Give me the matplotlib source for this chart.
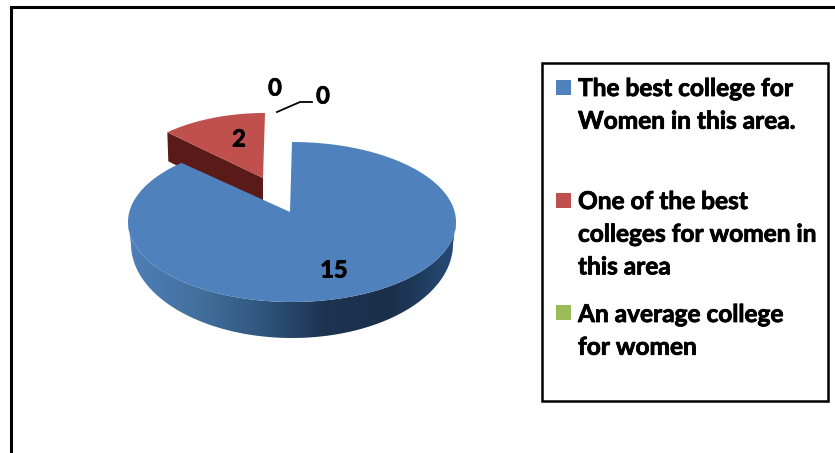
import matplotlib
matplotlib.use("Agg")
import matplotlib.pyplot as plt
import matplotlib.patheffects as pe
import numpy as np
from matplotlib.colors import LinearSegmentedColormap
from matplotlib.patches import Polygon, Rectangle

# === Data ===
slice_values = [15, 2, 0, 0]
slice_labels = ["15", "2", "0", "0"]
legend_labels = [
    "The best college for\nWomen in this area.",
    "One of the best\ncolleges for women in\nthis area",
    "An average college\nfor women",
]

# === Colours ===
BLUE = "#4F81BD"
RED = "#C0504D"
GREEN = "#9BBB59"
DARK_RED = "#5A1A18"
side_ramp = ["#4F7FB9", "#44719F", "#30577F", "#1D3350", "#1B2F4A", "#264B78"]

plt.rcParams["font.family"] = ["Lato", "DejaVu Sans"]
heavy = [pe.withStroke(linewidth=0.6, foreground="black")]


def ellipse_points(cx, cy, a, b, t0, t1):
    # angles are degrees clockwise from 12 o'clock
    t = np.radians(np.linspace(t0, t1, 200))
    return np.column_stack([cx + a * np.sin(t), cy - b * np.cos(t)])


fig = plt.figure(figsize=(8.35, 4.53), dpi=100)
ax = fig.add_axes([0, 0, 1, 1])
ax.set_axis_off()

# outer frame, only top and left are in view
ax.plot([835, 11, 11], [7, 7, 453], color="black", lw=2.2, solid_joinstyle="miter", zorder=1)

# === Pie ===
total = sum(slice_values)
blue_end = 360 * slice_values[0] / total
red_end = blue_end + 360 * slice_values[1] / total

# blue side wall with shading ramp
top_arc = ellipse_points(292, 222, 164, 80, 90, 270)
bottom_arc = ellipse_points(292, 244, 161, 94, 270, 90)
wall = Polygon(np.vstack([top_arc, bottom_arc]), closed=True, transform=ax.transData,
               facecolor="none", edgecolor="none")
ax.add_patch(wall)
cmap = LinearSegmentedColormap.from_list("side", side_ramp)
im = ax.imshow(np.linspace(0, 1, 256).reshape(1, -1), cmap=cmap, aspect="auto",
               extent=(128, 456, 340, 220), zorder=2)
im.set_clip_path(wall)

# red slice, pulled out of the pie
red_top = ellipse_points(265, 187, 145, 74, blue_end, red_end)
red_apex = [263, 178]
left_corner = red_top[0]
ax.add_patch(Polygon([left_corner, red_apex, [red_apex[0], red_apex[1] + 31],
                      [left_corner[0] + 1, left_corner[1] + 29]],
                     closed=True, facecolor=DARK_RED, edgecolor="none", zorder=3))
ax.add_patch(Polygon(np.vstack([red_top, [red_apex]]), closed=True, facecolor=RED,
                     edgecolor="none", zorder=4))

# blue top face
blue_top = ellipse_points(292, 222, 164, 80, 0, blue_end)
ax.add_patch(Polygon(np.vstack([blue_top, [[290, 212]]]), closed=True, facecolor=BLUE,
                     edgecolor="none", zorder=5))

# === Data labels ===
label_pos = [(334, 270), (239, 139), (275, 88), (323, 96)]
for text, (x, y) in zip(slice_labels, label_pos):
    ax.text(x, y, text, ha="center", va="center", fontsize=17, fontweight="bold",
            color="black", zorder=7, path_effects=heavy)
ax.plot([277, 300, 312], [112, 102, 102], color="black", lw=1.3, zorder=6)

# === Legend box ===
ax.add_patch(Rectangle((542, 63), 286, 338, facecolor="white", edgecolor="black",
                       lw=1.8, zorder=6))
swatch_y = [80, 193, 305]
text_y = [88.5, 201.5, 314.5]
for label, color, sy, ty in zip(legend_labels, [BLUE, RED, GREEN], swatch_y, text_y):
    ax.add_patch(Rectangle((556, sy), 15, 15, facecolor=color, edgecolor="none", zorder=7))
    for i, line in enumerate(label.split("\n")):
        ax.text(578, ty + i * 32.7, line, ha="left", va="center", fontsize=17.6,
                fontweight="bold", color="black", zorder=7, path_effects=heavy)

ax.set_xlim(0, 835)
ax.set_ylim(453, 0)

fig.savefig("out.png", dpi=100)
